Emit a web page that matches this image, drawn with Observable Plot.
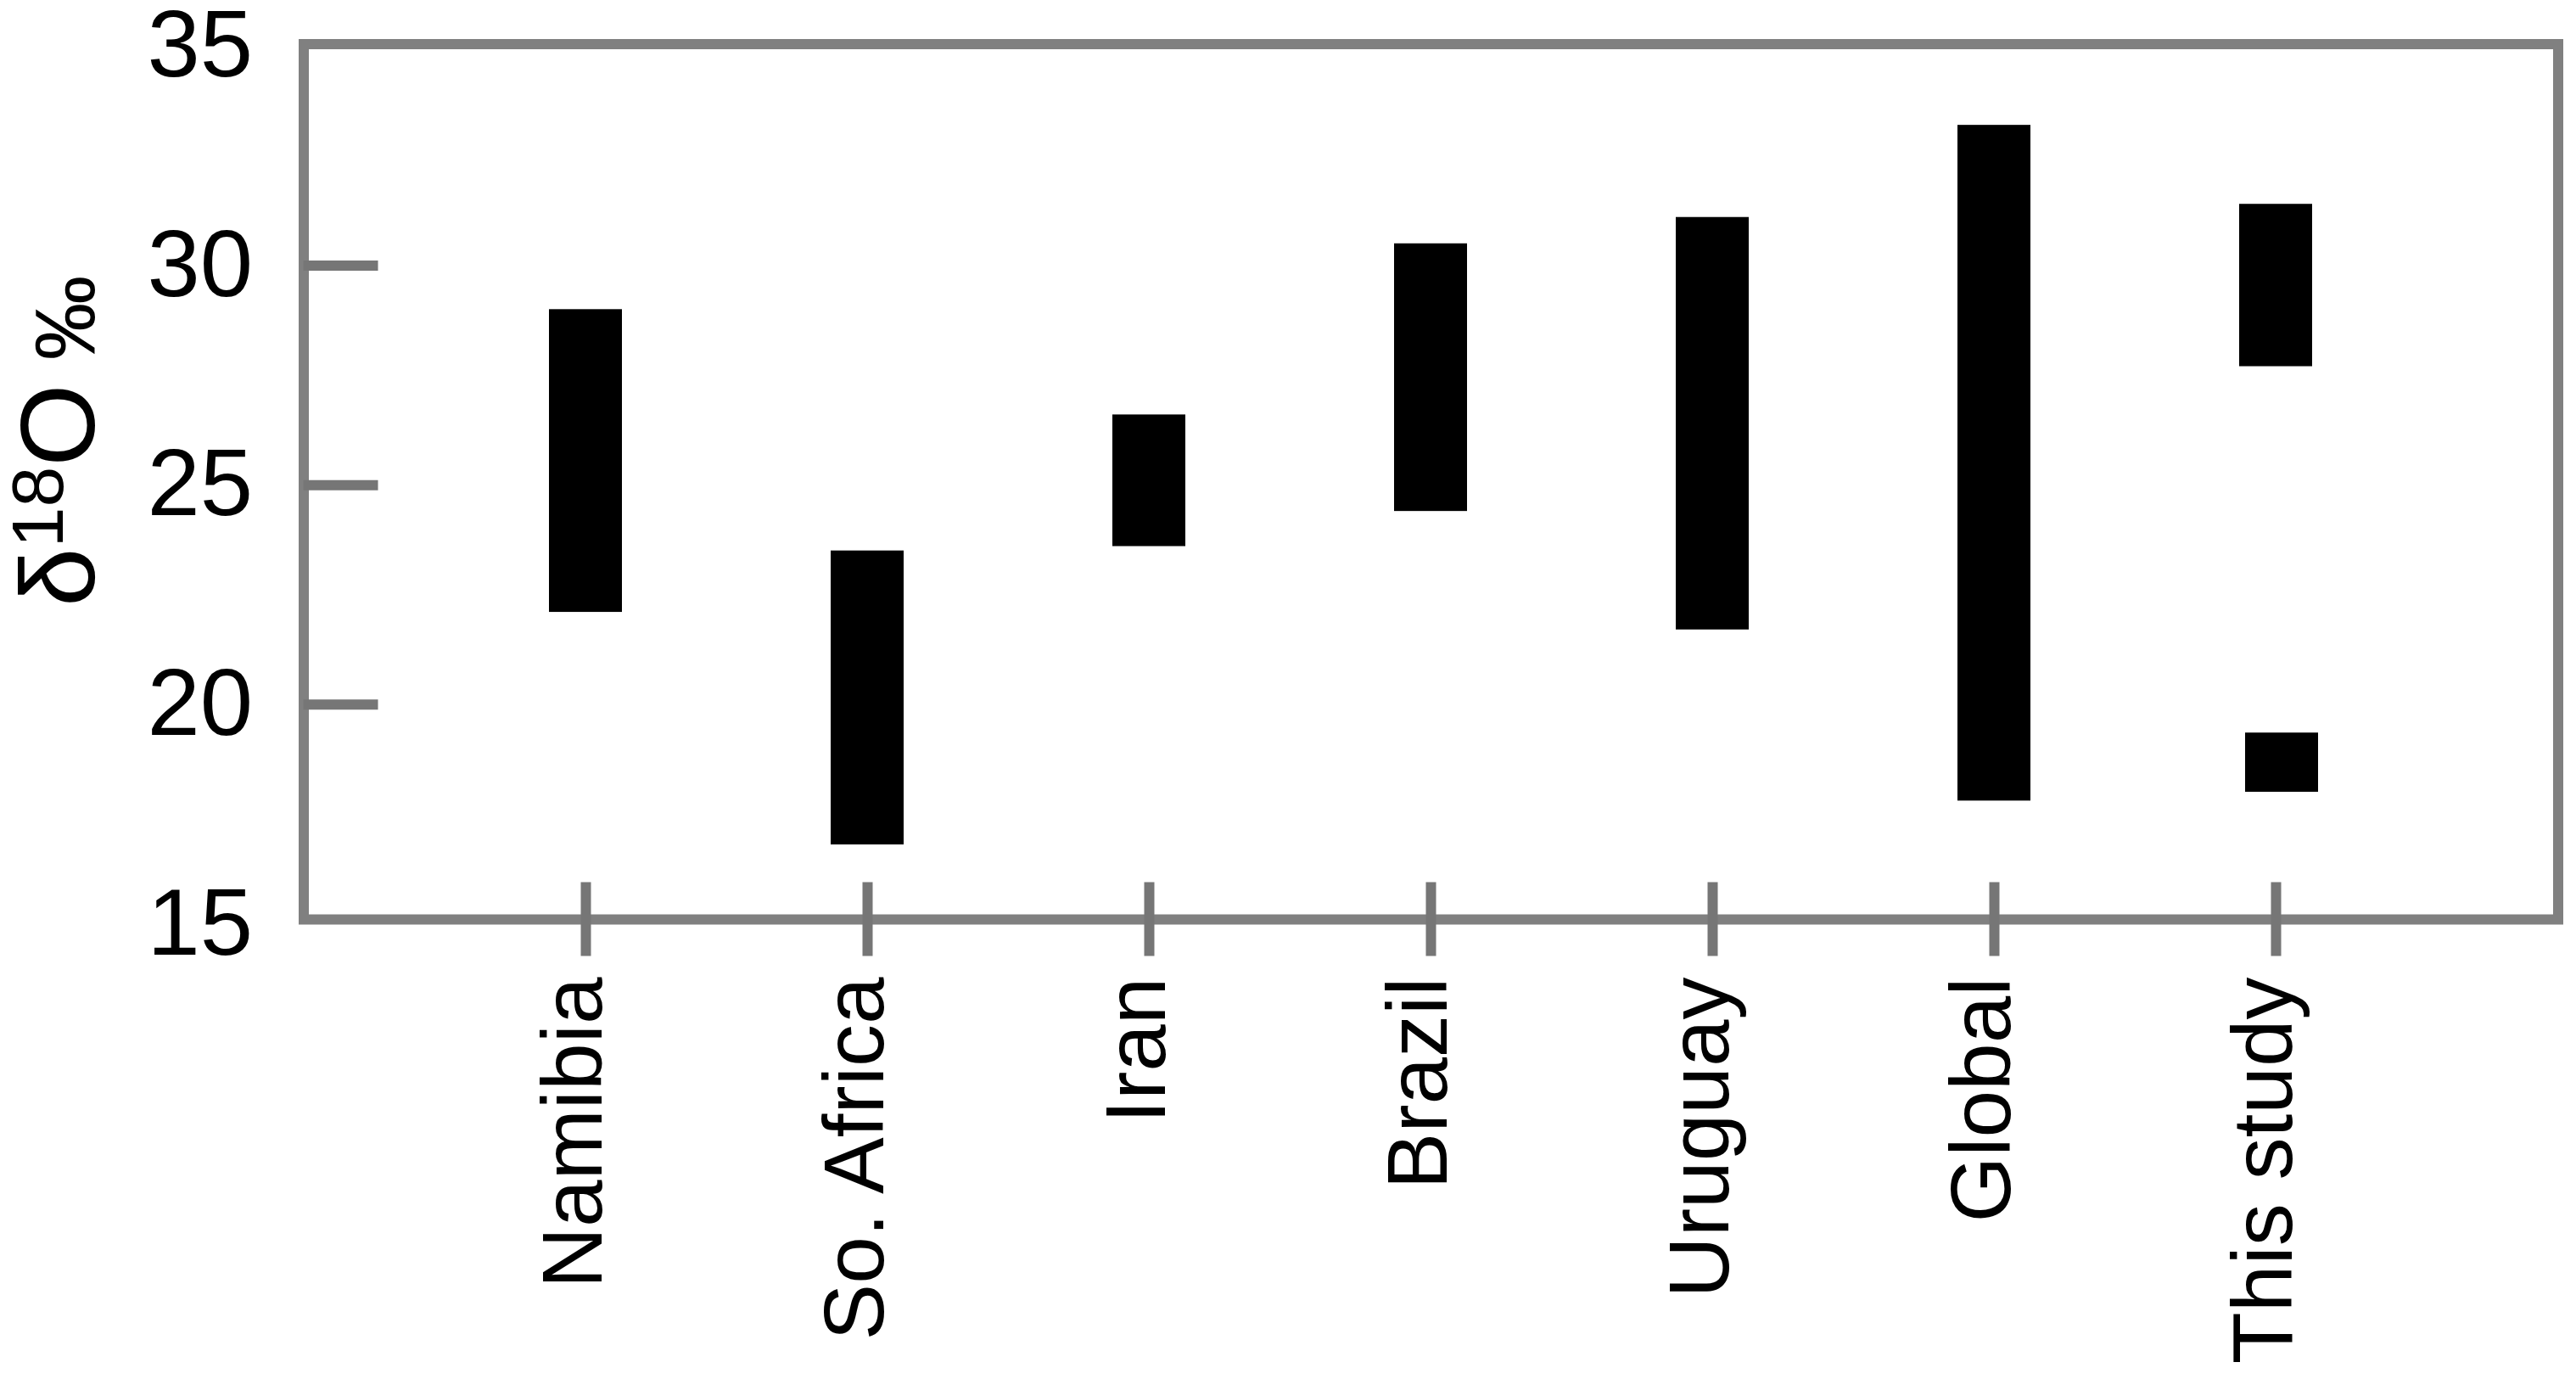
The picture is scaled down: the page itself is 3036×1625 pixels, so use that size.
<!DOCTYPE html>
<html>
<head>
<meta charset="utf-8">
<script src="https://cdn.jsdelivr.net/npm/d3@7"></script>
<script src="https://cdn.jsdelivr.net/npm/@observablehq/plot@0.6"></script>
<style>
  html, body { margin: 0; padding: 0; background: #fff; }
  svg { display: block; }
</style>
</head>
<body>
<div id="chart"></div>
<script>
// ---- data ----
const categories = ["Namibia", "So. Africa", "Iran", "Brazil", "Uruguay", "Global", "This study"];
const rangeLow  = [22.1, 16.8, 23.6, 24.4, 21.7, 17.8, 27.7];
const rangeHigh = [29.0, 23.5, 26.6, 30.5, 31.1, 33.2, 31.4];
// second (lower) range reported for "This study"
const extraCategory = "This study";
const extraLow = 18.0;
const extraHigh = 19.35;
const yTickValues = [15, 20, 25, 30, 35];
const yInnerTicks = [20, 25, 30];
const yLabelText = "δ18O ‰";

const bars = categories.map((c, i) => ({category: c, low: rangeLow[i], high: rangeHigh[i]}));
const extraBars = [{category: extraCategory, low: extraLow, high: extraHigh}];

// ---- layout ----
const W = 3036, H = 1625;
const mL = 357.5, mR = 21.5, mT = 51.5, mB = 542;
const step = (W - mL - mR) / (categories.length + 1);
const barW = 86;
const pInner = 1 - barW / step;
const pOuter = (1 + pInner) / 2;
const frameGray = "#808080";
const tickGray = "#767676";

const chart = Plot.plot({
  width: W,
  height: H,
  marginLeft: mL,
  marginRight: mR,
  marginTop: mT,
  marginBottom: mB,
  style: {fontFamily: "'Liberation Sans', Arial, Helvetica, sans-serif", background: "#fff", color: "#000"},
  x: {type: "band", domain: categories, paddingInner: pInner, paddingOuter: pOuter, axis: null},
  y: {domain: [15.1, 35.05], axis: null},
  marks: [
    Plot.barY(bars, {x: "category", y1: "low", y2: "high", fill: "#000"}),
    Plot.barY(extraBars, {x: "category", y1: "low", y2: "high", fill: "#000", dx: 7}),
    Plot.frame({stroke: frameGray, strokeWidth: 12}),
    // inward y ticks
    Plot.axisY(yInnerTicks, {anchor: "left", tickSize: 88, dx: 88, text: null, stroke: tickGray, strokeWidth: 12, label: null}),
    // y tick labels
    Plot.axisY(yTickValues, {anchor: "left", tickSize: 0, tickPadding: 60, fontSize: 112, fill: "#000", label: null, tickFormat: d => String(d)}),
    // x ticks crossing the axis
    Plot.axisX({anchor: "bottom", tickSize: 87, dy: -43.5, text: null, stroke: tickGray, strokeWidth: 12, label: null}),
    // x labels
    Plot.axisX({anchor: "bottom", tickSize: 0, tickPadding: 68, tickRotate: -90, fontSize: 100, fill: "#000", dx: -14, label: null}),
    // y axis title
    Plot.text([yLabelText], {frameAnchor: "left", rotate: -90, dx: -247.5, dy: -48, fontSize: 125, textAnchor: "middle", fill: "#000"})
  ]
});

document.getElementById("chart").appendChild(chart);

// style the axis title with a superscript and a smaller per-mille sign
const t = [...chart.querySelectorAll("text")].find(e => e.textContent === yLabelText);
if (t) {
  t.removeAttribute("y");
  t.removeAttribute("dy");
  t.textContent = "";
  const ns = "http://www.w3.org/2000/svg";
  const parts = [
    {s: "δ", size: 125, dy: 0},
    {s: "18", size: 86, dy: -37},
    {s: "O", size: 125, dy: 37},
    {s: " ‰", size: 100, dy: 0}
  ];
  for (const p of parts) {
    const ts = document.createElementNS(ns, "tspan");
    ts.setAttribute("font-size", p.size);
    if (p.dy) ts.setAttribute("dy", p.dy);
    ts.textContent = p.s;
    t.appendChild(ts);
  }
}
</script>
</body>
</html>
